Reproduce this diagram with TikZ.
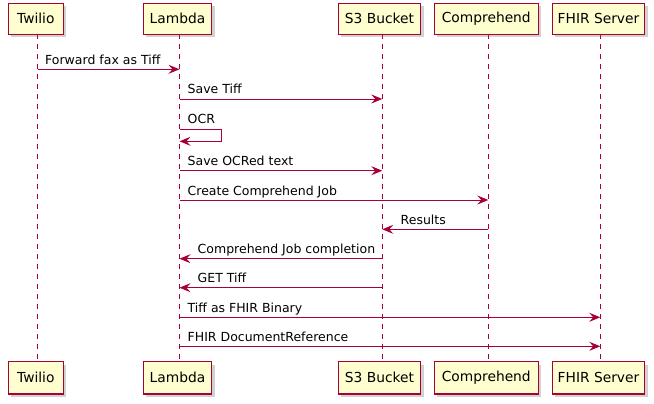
\documentclass[tikz,border=0pt]{standalone}
\usepackage{fontspec}
\setmainfont{DejaVu Sans}
\usetikzlibrary{arrows.meta,shadows}
\definecolor{pline}{HTML}{A80036}
\definecolor{pfill}{HTML}{FEFECE}
\tikzset{
  party/.style={draw=pline, fill=pfill, line width=1.1pt, inner sep=0pt,
    minimum height=31pt, font=\fontsize{13.8}{16}\selectfont,
    drop shadow={shadow xshift=3pt, shadow yshift=-3pt, opacity=0.3, fill=black!60}},
  life/.style={draw=pline, line width=0.9pt, dash pattern=on 5pt off 5pt},
  msg/.style={draw=pline, line width=0.9pt, -{Stealth[length=11pt,width=9pt,inset=4pt]}},
  lbl/.style={anchor=base west, inner sep=0pt, font=\fontsize{12.5}{15}\selectfont}
}
\begin{document}
\begin{tikzpicture}[x=1pt,y=-1pt]
\useasboundingbox (0,0) rectangle (654,404);
% lifelines
\coordinate (twT) at (37.5,34.3);  \coordinate (twB) at (37.5,361.7);
\coordinate (laT) at (179.5,34.3); \coordinate (laB) at (179.5,361.7);
\coordinate (s3T) at (382.3,34.3); \coordinate (s3B) at (382.3,361.7);
\coordinate (coT) at (488.3,34.3); \coordinate (coB) at (488.3,361.7);
\coordinate (fhT) at (600.3,34.3); \coordinate (fhB) at (600.3,361.7);
\draw[life] (twT) -- (twB);
\draw[life] (laT) -- (laB);
\draw[life] (s3T) -- (s3B);
\draw[life] (coT) -- (coB);
\draw[life] (fhT) -- (fhB);
% participants top
\node[party, minimum width=55pt]   (tw1) at (35.8,18.8)  {Twilio};
\node[party, minimum width=68.4pt] (la1) at (177.5,18.8) {Lambda};
\node[party, minimum width=82.4pt] (s31) at (379.5,18.8) {S3 Bucket};
\node[party, minimum width=104pt]  (co1) at (486.3,18.8) {Comprehend};
\node[party, minimum width=92.4pt] (fh1) at (598.5,18.8) {FHIR Server};
% participants bottom
\node[party, minimum width=55pt,   minimum height=32.3pt] (tw2) at (35.8,377.8)  {Twilio};
\node[party, minimum width=68.4pt, minimum height=32.3pt] (la2) at (177.5,377.8) {Lambda};
\node[party, minimum width=82.4pt, minimum height=32.3pt] (s32) at (379.5,377.8) {S3 Bucket};
\node[party, minimum width=104pt,  minimum height=32.3pt] (co2) at (486.3,377.8) {Comprehend};
\node[party, minimum width=92.4pt, minimum height=32.3pt] (fh2) at (598.5,377.8) {FHIR Server};
% messages
\coordinate (m1a) at (37.5,69.3);  \coordinate (m1b) at (179.5,69.3);
\draw[msg] (m1a) -- (m1b);
\node[lbl] (l1) at (45,64.3) {Forward fax as Tiff};
\coordinate (m2a) at (179.5,99);  \coordinate (m2b) at (382.3,99);
\draw[msg] (m2a) -- (m2b);
\node[lbl] (l2) at (187.5,94) {Save Tiff};
\coordinate (m3a) at (179.5,129);  \coordinate (m3b) at (179.5,141.3);
\draw[msg] (m3a) -- (221.7,129) -- (221.7,141.3) -- (m3b);
\node[lbl] (l3) at (187.5,124) {OCR};
\coordinate (m4a) at (179.5,170.7);  \coordinate (m4b) at (382.3,170.7);
\draw[msg] (m4a) -- (m4b);
\node[lbl] (l4) at (187.5,165.7) {Save OCRed text};
\coordinate (m5a) at (179.5,200);  \coordinate (m5b) at (488.3,200);
\draw[msg] (m5a) -- (m5b);
\node[lbl] (l5) at (187.5,195) {Create Comprehend Job};
\coordinate (m6a) at (488.3,229.3);  \coordinate (m6b) at (382.3,229.3);
\draw[msg] (m6a) -- (m6b);
\node[lbl] (l6) at (400.5,224.3) {Results};
\coordinate (m7a) at (382.3,258.7);  \coordinate (m7b) at (179.5,258.7);
\draw[msg] (m7a) -- (m7b);
\node[lbl] (l7) at (197.5,253.7) {Comprehend Job completion};
\coordinate (m8a) at (382.3,287.7);  \coordinate (m8b) at (179.5,287.7);
\draw[msg] (m8a) -- (m8b);
\node[lbl] (l8) at (197.5,282.7) {GET Tiff};
\coordinate (m9a) at (179.5,317.3);  \coordinate (m9b) at (600.3,317.3);
\draw[msg] (m9a) -- (m9b);
\node[lbl] (l9) at (187.5,312.3) {Tiff as FHIR Binary};
\coordinate (m10a) at (179.5,346.3);  \coordinate (m10b) at (600.3,346.3);
\draw[msg] (m10a) -- (m10b);
\node[lbl] (l10) at (187.5,341.3) {FHIR DocumentReference};
\end{tikzpicture}
\end{document}
